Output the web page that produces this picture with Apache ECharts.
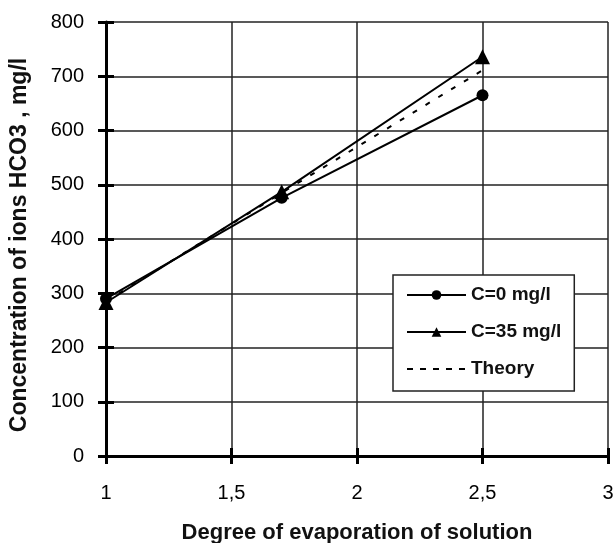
<!DOCTYPE html>
<html>
<head>
<meta charset="utf-8">
<script src="https://cdn.jsdelivr.net/npm/echarts@6/dist/echarts.min.js"></script>
<style>
  html, body { margin: 0; padding: 0; background: #fff; }
  #chart { width: 615px; height: 543px; }
</style>
</head>
<body>
<div id="chart"></div>
<script>
// degree of evaporation
let evap_degree = [1, 1.7, 2.5];

// HCO3 concentration, mg/l
let c0_values = [290, 476, 665];
let c35_values = [283, 487, 736];
let theory_values = [285, 485, 711];

let series_names = ["C=0 mg/l", "C=35 mg/l", "Theory"];

function pairs(xs, ys) {
    let out = [];
    for (let i = 0; i < xs.length; i++) {
        out.push([xs[i], ys[i]]);
    }
    return out;
}

let font_family = "Liberation Sans, Arial, sans-serif";

// the axes in the picture have ticks crossing the axis line,
// so a second pair of axes just draws the inner half of each tick
function tick_axis(is_x) {
    return {
        type: "value",
        min: is_x ? 1 : 0,
        max: is_x ? 3 : 800,
        interval: is_x ? 0.5 : 100,
        position: is_x ? "bottom" : "left",
        axisLine: { show: false },
        axisTick: { show: true, inside: true, length: 8, lineStyle: { color: "#000", width: 3 } },
        axisLabel: { show: false },
        splitLine: { show: false }
    };
}

let chart = echarts.init(document.getElementById("chart"));

let option = {
    animation: false,
    backgroundColor: "#fff",
    textStyle: { fontFamily: font_family },
    grid: { left: 106, right: 7, top: 22, bottom: 87, outerBoundsMode: "none" },
    legend: {
        orient: "vertical",
        left: 393,
        top: 275,
        itemWidth: 59,
        itemHeight: 12,
        itemGap: 17,
        padding: [10, 13, 12, 13],
        borderColor: "#222",
        borderWidth: 1.5,
        backgroundColor: "#fff",
        textStyle: { fontSize: 19, lineHeight: 20, fontWeight: "bold", color: "#111", fontFamily: font_family },
        data: [
            series_names[0],
            series_names[1],
            { name: series_names[2], itemStyle: { opacity: 0 }, lineStyle: { type: [6, 7], width: 2 } }
        ]
    },
    xAxis: [
        {
            type: "value",
            min: 1,
            max: 3,
            interval: 0.5,
            name: "Degree of evaporation of solution",
            nameLocation: "middle",
            nameGap: 66,
            nameTextStyle: { fontSize: 22, fontWeight: "bold", color: "#111" },
            axisLine: { lineStyle: { color: "#000", width: 3 } },
            axisTick: { show: true, length: 8, lineStyle: { color: "#000", width: 3 } },
            axisLabel: {
                fontSize: 20, color: "#000", margin: 27,
                formatter: function (v) { return String(v).replace(".", ","); }
            },
            splitLine: { show: true, lineStyle: { color: "#222", width: 1.5 } }
        },
        tick_axis(true)
    ],
    yAxis: [
        {
            type: "value",
            min: 0,
            max: 800,
            interval: 100,
            name: "Concentration of ions HCO3 , mg/l",
            nameLocation: "middle",
            nameGap: 75,
            nameTextStyle: { fontSize: 23, fontWeight: "bold", color: "#111", padding: [0, 12, 0, 0] },
            axisLine: { show: true, lineStyle: { color: "#000", width: 3 } },
            axisTick: { show: true, length: 8, lineStyle: { color: "#000", width: 3 } },
            axisLabel: { fontSize: 20, color: "#000", margin: 22 },
            splitLine: { show: true, lineStyle: { color: "#222", width: 1.5 } }
        },
        tick_axis(false)
    ],
    series: [
        {
            name: series_names[0],
            type: "line",
            data: pairs(evap_degree, c0_values),
            symbol: "circle",
            symbolSize: 12,
            itemStyle: { color: "#000" },
            lineStyle: { color: "#000", width: 2 },
            z: 3
        },
        {
            name: series_names[1],
            type: "line",
            data: pairs(evap_degree, c35_values),
            symbol: "triangle",
            symbolSize: 15,
            itemStyle: { color: "#000" },
            lineStyle: { color: "#000", width: 2 },
            z: 3
        },
        {
            name: series_names[2],
            type: "line",
            data: pairs(evap_degree, theory_values),
            symbol: "none",
            itemStyle: { color: "#000" },
            lineStyle: { color: "#000", width: 2, type: [5, 10] },
            z: 2
        }
    ]
};

chart.setOption(option);
</script>
</body>
</html>
